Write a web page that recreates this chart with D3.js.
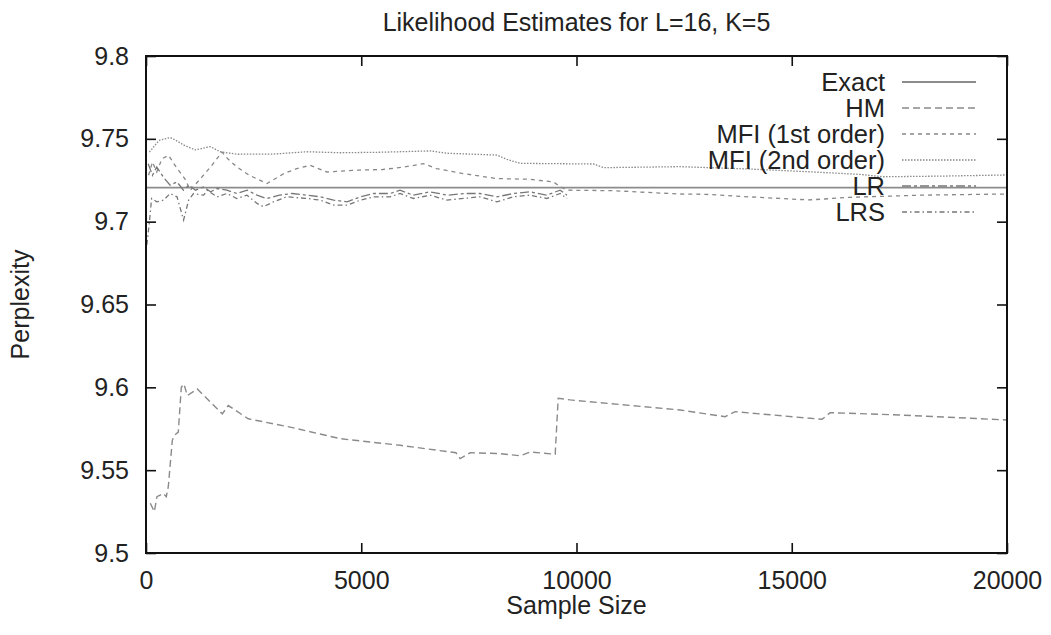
<!DOCTYPE html>
<html>
<head>
<meta charset="utf-8">
<script src="https://d3js.org/d3.v7.min.js"></script>
<style>
  body { margin: 0; background: #fff; }
  text { font-family: "Liberation Sans", Arial, Helvetica, sans-serif; fill: #222; }
</style>
</head>
<body>
<div class="chart"></div>
<script>
// likelihood estimates chart, gnuplot style

var xTicks = [0, 5000, 10000, 15000, 20000];
var yTicks = [9.5, 9.55, 9.6, 9.65, 9.7, 9.75, 9.8];
var legendNames = ["Exact", "HM", "MFI (1st order)", "MFI (2nd order)", "LR", "LRS"];

var exactValue = 9.7205;

// [sample size, perplexity]
var hmPoints = [[100, 9.530], [193, 9.525], [255, 9.534], [402, 9.536], [471, 9.534],
  [518, 9.540], [611, 9.568], [658, 9.571], [750, 9.573], [820, 9.600], [882, 9.602],
  [959, 9.595], [1191, 9.599], [1772, 9.584], [1911, 9.589], [2376, 9.581], [3351, 9.576],
  [4512, 9.569], [5905, 9.565], [7200, 9.5605], [7297, 9.557], [7530, 9.5605], [8227, 9.560],
  [8692, 9.5587], [8924, 9.561], [9505, 9.5596], [9575, 9.5934], [9854, 9.5924],
  [10550, 9.5907], [12408, 9.5863], [13453, 9.5823], [13685, 9.5853], [15427, 9.5813],
  [15706, 9.5807], [15891, 9.5847], [17517, 9.5833], [20000, 9.5803]];

var mfi1Points = [[60, 9.728], [150, 9.736], [250, 9.730], [371, 9.738], [525, 9.740],
  [700, 9.733], [900, 9.726], [1030, 9.719], [1300, 9.727], [1500, 9.733], [1765, 9.742],
  [1900, 9.738], [2110, 9.733], [2400, 9.728], [2810, 9.723], [3200, 9.729], [3500, 9.732],
  [3815, 9.734], [4200, 9.730], [4800, 9.731], [5500, 9.7315], [6000, 9.733], [6450, 9.735],
  [6750, 9.732], [7375, 9.729], [8150, 9.726], [8900, 9.7256], [9465, 9.724], [9620, 9.7211],
  [9780, 9.719], [10850, 9.7187], [12400, 9.7167], [13000, 9.7165], [14000, 9.715],
  [15400, 9.7131], [16350, 9.7147], [18000, 9.716], [20000, 9.7167]];

var mfi2Points = [[80, 9.742], [300, 9.749], [564, 9.7508], [700, 9.749], [873, 9.7463],
  [1145, 9.7433], [1493, 9.7453], [1725, 9.7422], [2113, 9.7407], [2958, 9.7408],
  [3738, 9.7422], [4512, 9.7416], [5440, 9.7419], [6602, 9.7427], [6989, 9.7413],
  [8150, 9.7402], [8382, 9.7376], [8692, 9.7352], [10394, 9.7348], [10626, 9.7326],
  [12408, 9.7332], [14000, 9.7318], [15500, 9.730], [16600, 9.7285], [17122, 9.7271],
  [18500, 9.7275], [20000, 9.7282]];

var lrPoints = [[50, 9.735], [150, 9.728], [250, 9.733], [400, 9.727], [560, 9.722],
  [720, 9.724], [870, 9.719], [1000, 9.722], [1150, 9.719], [1340, 9.721], [1500, 9.718],
  [1650, 9.720], [1880, 9.719], [2110, 9.717], [2350, 9.719], [2580, 9.716], [2800, 9.714],
  [3100, 9.716], [3400, 9.717], [3740, 9.716], [4050, 9.715], [4360, 9.713], [4670, 9.712],
  [4980, 9.715], [5290, 9.717], [5670, 9.717], [5900, 9.719], [6200, 9.716], [6600, 9.718],
  [7000, 9.716], [7400, 9.717], [7760, 9.717], [8150, 9.715], [8540, 9.717], [8920, 9.718],
  [9300, 9.716], [9620, 9.719], [9780, 9.716]];

var lrsPoints = [[20, 9.686], [80, 9.700], [130, 9.714], [250, 9.712], [410, 9.713],
  [560, 9.717], [720, 9.715], [873, 9.701], [990, 9.713], [1105, 9.717], [1340, 9.716],
  [1420, 9.719], [1650, 9.715], [1880, 9.717], [2110, 9.714], [2345, 9.716], [2580, 9.711],
  [2730, 9.709], [2960, 9.712], [3270, 9.715], [3740, 9.714], [4050, 9.713], [4360, 9.710],
  [4670, 9.710], [4980, 9.713], [5290, 9.715], [5670, 9.715], [5900, 9.717], [6210, 9.714],
  [6600, 9.716], [6990, 9.713], [7380, 9.714], [7760, 9.715], [8150, 9.712], [8540, 9.715],
  [8920, 9.716], [9310, 9.714], [9620, 9.717], [9780, 9.714]];

window.onload = function()
{
  var series = [
    {name: "Exact", points: [[0, exactValue], [20000, exactValue]], dash: null, color: "#8c8c8c", w: 1.8},
    {name: "HM", points: hmPoints, dash: "7,4", color: "#8a8a8a", w: 1.4},
    {name: "MFI (1st order)", points: mfi1Points, dash: "4,4", color: "#888", w: 1.3},
    {name: "MFI (2nd order)", points: mfi2Points, dash: "1.5,1.5", color: "#888", w: 1.3},
    {name: "LR", points: lrPoints, dash: "9,3,3,3", color: "#777", w: 1.3},
    {name: "LRS", points: lrsPoints, dash: "5,3,1.5,3", color: "#777", w: 1.3}
  ];
  makeChart(series);
}

function makeChart(series)
{
  var margin = {top: 56, right: 44, bottom: 82, left: 146},
      width = 1051 - margin.left - margin.right,
      height = 635 - margin.top - margin.bottom;

  var svg = d3.select(".chart")
              .append("svg")
              .attr("width", 1051)
              .attr("height", 635);

  var g = svg.append("g")
             .attr("transform", "translate(" + margin.left + "," + margin.top + ")");

  var x = d3.scaleLinear().domain([0, 20000]).range([0, width]);
  var y = d3.scaleLinear().domain([9.5, 9.8]).range([height, 0]);

  g.append("clipPath")
   .attr("id", "clip")
   .append("rect")
   .attr("width", width)
   .attr("height", height);

  // curves
  var line = d3.line()
               .x(function(d) { return x(d[0]); })
               .y(function(d) { return y(d[1]); });

  g.append("g")
   .attr("clip-path", "url(#clip)")
   .selectAll("path")
   .data(series)
   .enter()
   .append("path")
   .attr("d", function(d) { return line(d.points); })
   .attr("fill", "none")
   .attr("stroke", function(d) { return d.color; })
   .attr("stroke-width", function(d) { return d.w; })
   .attr("stroke-dasharray", function(d) { return d.dash; });

  // axes, ticks point inwards on all four sides (gnuplot mirror)
  var fmtY = function(d) { return d3.format("")(+d.toFixed(2)); };

  var left = g.append("g").call(d3.axisLeft(y).tickValues(yTicks).tickSize(-10).tickPadding(17).tickFormat(fmtY));
  var right = g.append("g").attr("transform", "translate(" + width + ",0)")
               .call(d3.axisRight(y).tickValues(yTicks).tickSize(-10).tickFormat(""));
  var bottom = g.append("g").attr("transform", "translate(0," + height + ")")
                .call(d3.axisBottom(x).tickValues(xTicks).tickSize(-10).tickPadding(18).tickFormat(d3.format("d")));
  var top = g.append("g").call(d3.axisTop(x).tickValues(xTicks).tickSize(-10).tickFormat(""));

  [left, right, bottom, top].forEach(function(a) {
    a.selectAll(".domain").remove();
    a.selectAll(".tick line").attr("stroke", "#111").attr("stroke-width", 1.6);
    a.selectAll("text").style("font-size", "25px").attr("fill", "#222");
  });

  // frame
  g.append("rect")
   .attr("width", width)
   .attr("height", height)
   .attr("fill", "none")
   .attr("stroke", "#111")
   .attr("stroke-width", 2);

  // legend
  var legend = g.append("g").selectAll("g")
                .data(series)
                .enter()
                .append("g")
                .attr("transform", function(d, i) { return "translate(0," + (26 + i * 26) + ")"; });

  legend.append("text")
        .attr("x", 739)
        .attr("y", 9)
        .attr("text-anchor", "end")
        .style("font-size", "25.5px")
        .text(function(d) { return d.name; });

  legend.append("line")
        .attr("x1", 756)
        .attr("x2", 830)
        .attr("stroke", function(d) { return d.color; })
        .attr("stroke-width", function(d) { return d.w; })
        .attr("stroke-dasharray", function(d) { return d.dash; });

  // title and labels
  svg.append("text")
     .attr("x", margin.left + width / 2)
     .attr("y", 31)
     .attr("text-anchor", "middle")
     .style("font-size", "25px")
     .text("Likelihood Estimates for L=16, K=5");

  svg.append("text")
     .attr("x", margin.left + width / 2)
     .attr("y", 614)
     .attr("text-anchor", "middle")
     .style("font-size", "25px")
     .text("Sample Size");

  svg.append("text")
     .attr("transform", "translate(29," + (margin.top + height / 2) + ") rotate(-90)")
     .attr("text-anchor", "middle")
     .style("font-size", "25px")
     .text("Perplexity");
}
</script>
</body>
</html>
